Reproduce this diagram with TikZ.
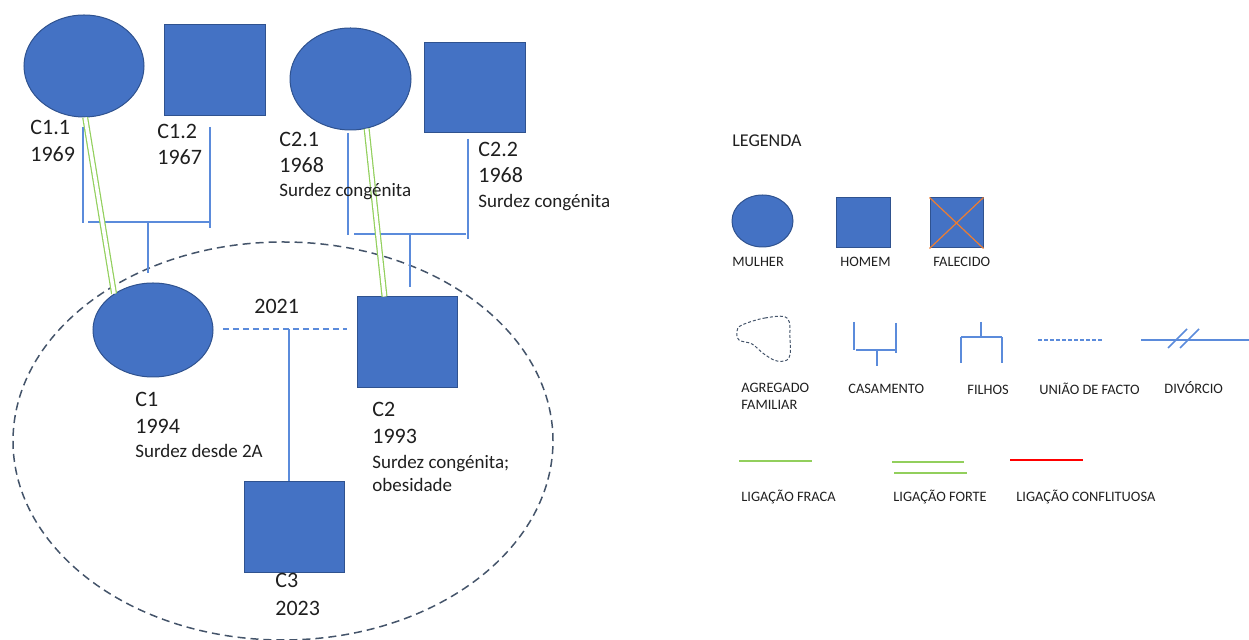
\documentclass[tikz,border=0pt]{standalone}
\usepackage{fontspec}
\setmainfont{Carlito}
\usetikzlibrary{shapes.geometric}
\definecolor{fillblue}{HTML}{4472C4}
\definecolor{edgeblue}{HTML}{2F528F}
\definecolor{linkblue}{HTML}{5B8BDB}
\definecolor{famgray}{HTML}{44546A}
\definecolor{ligreen}{HTML}{92CF5C}
\definecolor{deadorange}{HTML}{ED7D31}
\definecolor{txt}{HTML}{1F1F1F}
\begin{document}
\begin{tikzpicture}[x=0.5pt,y=-0.5pt,
  woman/.style={ellipse, draw=edgeblue, fill=fillblue, line width=0.5pt, inner sep=0pt},
  man/.style={rectangle, draw=edgeblue, fill=fillblue, line width=0.5pt, inner sep=0pt},
  big/.style={font=\fontsize{11}{13}\selectfont, anchor=base west, text=txt, inner sep=0pt},
  med/.style={font=\fontsize{9.5}{11}\selectfont, anchor=base west, text=txt, inner sep=0pt},
  leg/.style={font=\fontsize{7.2}{9}\selectfont, anchor=base west, text=txt, inner sep=0pt},
  kin/.style={draw=linkblue, line width=0.75pt},
  factunion/.style={draw=linkblue, line width=0.75pt, dash pattern=on 3pt off 2pt},
  weakbond/.style={draw=ligreen, line width=0.65pt},
  strongbond/.style={draw=ligreen, double=white, double distance=1.8pt, line width=0.6pt},
  household/.style={draw=famgray, line width=0.75pt, dash pattern=on 4pt off 2.5pt},
  smallhousehold/.style={draw=famgray, line width=0.5pt, dash pattern=on 1.5pt off 1pt}]
\useasboundingbox (0,0) rectangle (1249,640);

% family household
\node[household, ellipse, minimum width=270pt, minimum height=199pt, inner sep=0pt] (fam) at (283,441) {};

% persons
\node[woman, minimum width=60pt, minimum height=51pt] (c11) at (84,66) {};
\node[man, minimum width=50.5pt, minimum height=45.5pt] (c12) at (214.5,70.5) {};
\node[woman, minimum width=60.5pt, minimum height=51pt] (c21) at (350.5,79) {};
\node[man, minimum width=50.5pt, minimum height=45pt] (c22) at (474.5,88) {};
\node[woman, minimum width=60pt, minimum height=47pt] (c1) at (153,330) {};
\node[man, minimum width=50pt, minimum height=45.5pt] (c2) at (407,342.5) {};
\node[man, minimum width=50pt, minimum height=45.5pt] (c3) at (294,527.5) {};

% marriage C1.1 - C1.2
\coordinate (m1a) at (83,127); \coordinate (m1b) at (83,223);
\coordinate (m1c) at (210,127); \coordinate (m1d) at (210,228);
\coordinate (m1e) at (88,222); \coordinate (m1f) at (210,222);
\coordinate (m1g) at (148,222); \coordinate (m1h) at (148,273);
\draw[kin] (m1a) -- (m1b);
\draw[kin] (m1c) -- (m1d);
\draw[kin] (m1e) -- (m1f);
\draw[kin] (m1g) -- (m1h);

% marriage C2.1 - C2.2
\coordinate (m2a) at (348,133); \coordinate (m2b) at (348,235);
\coordinate (m2c) at (468,139); \coordinate (m2d) at (468,239);
\coordinate (m2e) at (354,234); \coordinate (m2f) at (466,234);
\coordinate (m2g) at (410,234); \coordinate (m2h) at (410,287);
\draw[kin] (m2a) -- (m2b);
\draw[kin] (m2c) -- (m2d);
\draw[kin] (m2e) -- (m2f);
\draw[kin] (m2g) -- (m2h);

% strong bonds
\draw[strongbond] ([xshift=0.6pt]c11.south) -- (c1.137);
\draw[strongbond] (c21.-72.5) -- ([xshift=-11.25pt]c2.north);

% union C1 - C2 and child C3
\coordinate (u1) at (223,329); \coordinate (u2) at (347,329);
\coordinate (u3) at (289,329);
\draw[factunion] (u1) -- (u2);
\draw[kin] (u3) -- (c3.north -| u3);

% labels
\node[big] (l11a) at (30,135) {C1.1};
\node[big] (l11b) at (30,162) {1969};
\node[big] (l12a) at (157,139) {C1.2};
\node[big] (l12b) at (157,165) {1967};
\node[big] (l21a) at (279,147) {C2.1};
\node[big] (l21b) at (279,173) {1968};
\node[med] (l21c) at (279,197) {Surdez congénita};
\node[big] (l22a) at (478,157) {C2.2};
\node[big] (l22b) at (478,183) {1968};
\node[med] (l22c) at (478,208) {Surdez congénita};
\node[big] (lyr) at (254,314) {2021};
\node[big] (l1a) at (135,407) {C1};
\node[big] (l1b) at (135,434) {1994};
\node[med] (l1c) at (135,458) {Surdez desde 2A};
\node[big] (l2a) at (372,417) {C2};
\node[big] (l2b) at (372,444) {1993};
\node[med] (l2c) at (372,469) {Surdez congénita;};
\node[med] (l2d) at (372,492) {obesidade};
\node[big] (l3a) at (275,588) {C3};
\node[big] (l3b) at (275,616) {2023};

% ---------------- legend ----------------
\node[leg, font=\fontsize{9}{11}\selectfont] (legt) at (732,147) {LEGENDA};

\node[woman, minimum width=30.5pt, minimum height=26pt] (lw) at (762.5,221) {};
\node[man, minimum width=27pt, minimum height=25pt] (lm) at (863,223) {};
\node[man, minimum width=26.5pt, minimum height=25pt] (ld) at (956.5,223) {};
\draw[deadorange, line width=0.6pt] (ld.south west) -- (ld.north east);
\draw[deadorange, line width=0.6pt] (ld.north west) -- (ld.south east);
\node[leg] (lwt) at (732,267) {MULHER};
\node[leg] (lmt) at (840,267) {HOMEM};
\node[leg] (ldt) at (933,267) {FALECIDO};

% household symbol
\draw[smallhousehold] plot[smooth cycle, tension=0.6] coordinates
  {(742,325) (765,318) (787,318) (790,338) (789,358) (777,361) (764,354) (752,344) (739,340) (737,331)};

% casamento symbol
\coordinate (ca1) at (854,322); \coordinate (ca2) at (854,350);
\coordinate (ca3) at (856,350); \coordinate (ca4) at (896,350);
\coordinate (ca5) at (896,323); \coordinate (ca6) at (896,353);
\coordinate (ca7) at (877,350); \coordinate (ca8) at (877,366);
\draw[kin] (ca1) -- (ca2);
\draw[kin] (ca3) -- (ca4);
\draw[kin] (ca5) -- (ca6);
\draw[kin] (ca7) -- (ca8);

% filhos symbol
\coordinate (fi1) at (981,322); \coordinate (fi2) at (981,337);
\coordinate (fi3) at (961,337); \coordinate (fi4) at (1002,337);
\coordinate (fi5) at (961,363); \coordinate (fi6) at (1002,363);
\draw[kin] (fi1) -- (fi2);
\draw[kin] (fi3) -- (fi4);
\draw[kin] (fi3) -- (fi5);
\draw[kin] (fi4) -- (fi6);

% uniao de facto
\coordinate (uf1) at (1038,340); \coordinate (uf2) at (1102,340);
\draw[draw=linkblue, line width=0.6pt, dash pattern=on 2pt off 1pt] (uf1) -- (uf2);

% divorcio
\coordinate (dv1) at (1141,340); \coordinate (dv2) at (1249,340);
\draw[kin] (dv1) -- (dv2);
\draw[kin] (1168,348) -- (1187,329);
\draw[kin] (1180,348) -- (1199,329);

\node[leg] (lag1) at (741,393) {AGREGADO};
\node[leg] (lag2) at (741,410) {FAMILIAR};
\node[leg] (lca) at (848,394) {CASAMENTO};
\node[leg] (lfi) at (967,395) {FILHOS};
\node[leg] (luf) at (1039,395) {UNIÃO DE FACTO};
\node[leg] (ldv) at (1164,394) {DIVÓRCIO};

% bond legend
\draw[weakbond] (739,461) -- (812,461);
\draw[weakbond] (892,462) -- (964,462);
\draw[weakbond] (894,473) -- (967,473);
\draw[red, line width=1pt] (1010,460) -- (1083,460);
\node[leg] (lbw) at (741,502) {LIGAÇÃO FRACA};
\node[leg] (lbs) at (893,502) {LIGAÇÃO FORTE};
\node[leg] (lbc) at (1016,502) {LIGAÇÃO CONFLITUOSA};
\end{tikzpicture}
\end{document}
